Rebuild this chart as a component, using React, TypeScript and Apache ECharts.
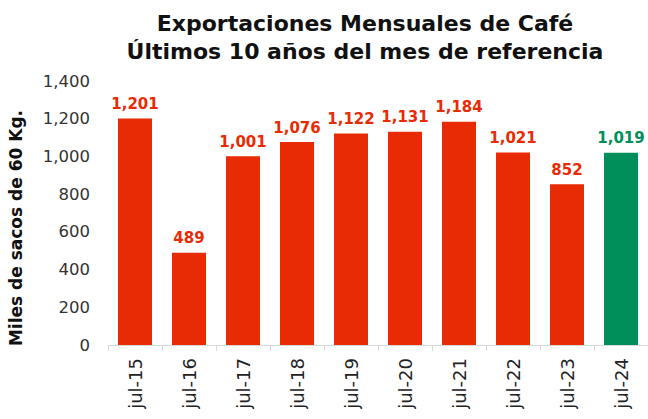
import React, { useEffect, useRef } from "react";
import * as echarts from "echarts";

const categories = ["jul-15", "jul-16", "jul-17", "jul-18", "jul-19", "jul-20", "jul-21", "jul-22", "jul-23", "jul-24"];
const values = [1201, 489, 1001, 1076, 1122, 1131, 1184, 1021, 852, 1019];
const highlightIndex = 9;
const yTicks = { min: 0, max: 1400, interval: 200 };
const yTitle = "Miles de sacos de 60 Kg.";

const RED = "#E92B05";
const GREEN = "#008F5A";
const FONT = "'DejaVu Sans', 'Open Sans', sans-serif";

export default function App() {
  const ref = useRef<HTMLDivElement>(null);
  useEffect(() => {
    if (!ref.current) return;
    const chart = echarts.init(ref.current, null, { renderer: "svg" });
    chart.setOption({
      animation: false,
      backgroundColor: "#ffffff",
      title: {
        text: "Exportaciones Mensuales de Café\nÚltimos 10 años del mes de referencia",
        left: 360,
        top: 4,
        textAlign: "center",
        textStyle: { fontFamily: FONT, fontWeight: "bold", fontSize: 22, lineHeight: 28, color: "#111" },
      },
      graphic: [
        {
          type: "text",
          x: 16,
          y: 228,
          rotation: Math.PI / 2,
          style: {
            text: yTitle,
            fontFamily: FONT,
            fontWeight: "bold",
            fontSize: 17,
            fill: "#111",
            align: "center",
            verticalAlign: "middle",
          },
        },
      ],
      grid: { left: 108, top: 81, width: 547, height: 264, containLabel: false },
      xAxis: {
        type: "category",
        data: categories,
        axisLine: { lineStyle: { color: "#d9d9d9" } },
        axisTick: { show: true, length: 6, lineStyle: { color: "#d9d9d9" } },
        axisLabel: { rotate: 90, fontFamily: FONT, fontSize: 18, color: "#222", margin: 13 },
      },
      yAxis: {
        type: "value",
        min: yTicks.min,
        max: yTicks.max,
        interval: yTicks.interval,
        splitLine: { show: false },
        axisLine: { show: false },
        axisTick: { show: false },
        axisLabel: {
          fontFamily: FONT,
          fontSize: 16.5,
          color: "#333",
          margin: 18,
          formatter: (v: number) => v.toLocaleString("en-US"),
        },
      },
      series: [
        {
          type: "bar",
          barWidth: "63%",
          data: values.map((v, i) => ({
            value: v,
            itemStyle: { color: i === highlightIndex ? GREEN : RED },
            label: { color: i === highlightIndex ? GREEN : RED },
          })),
          label: {
            show: true,
            position: "top",
            distance: 7,
            fontFamily: FONT,
            fontWeight: "bold",
            fontSize: 15,
            formatter: (p: any) => Number(p.value).toLocaleString("en-US"),
          },
        },
      ],
    });
    return () => chart.dispose();
  }, []);
  return <div ref={ref} style={{ width: 648, height: 419, position: "absolute", left: 0, top: 0 }} />;
}
